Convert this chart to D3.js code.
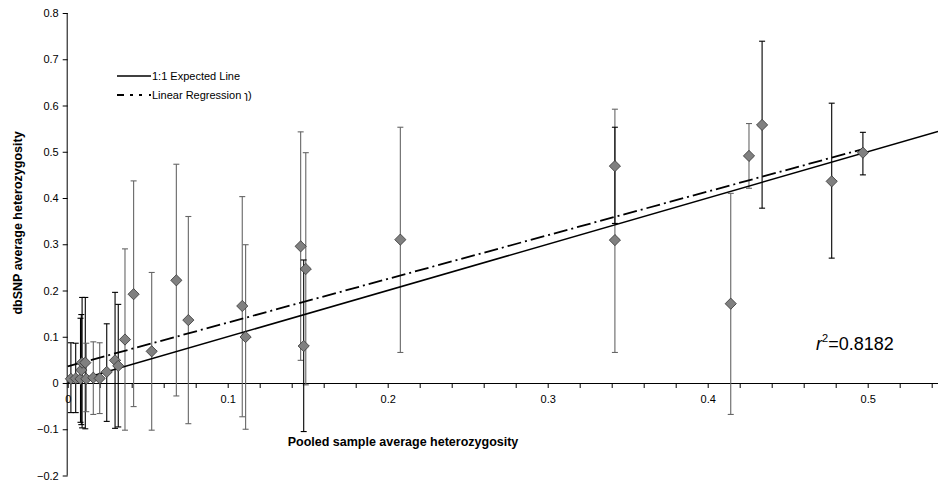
<!DOCTYPE html>
<html>
<head>
<meta charset="utf-8">
<script src="https://cdn.jsdelivr.net/npm/d3@7"></script>
<style>
  html, body { margin: 0; padding: 0; background: #fff; }
  svg { display: block; font-family: "Liberation Sans", Arial, sans-serif; }
</style>
</head>
<body>
<svg id="chart" width="938" height="487"></svg>
<script>
// ---- Data ----
const pooledX = [0.002, 0.005, 0.008, 0.0085, 0.009, 0.011, 0.0116, 0.016, 0.020, 0.0244,
                 0.0296, 0.0316, 0.0358, 0.0412, 0.0525, 0.0679, 0.0754, 0.1091, 0.1112, 0.1456,
                 0.1488, 0.1475, 0.2079, 0.342, 0.342, 0.4144, 0.4258, 0.434, 0.4775, 0.497];
const dbsnpY  = [0.009, 0.010, 0.009, 0.028, 0.044, 0.044, 0.009, 0.0115, 0.010, 0.024,
                 0.049, 0.037, 0.094, 0.192, 0.0685, 0.222, 0.136, 0.1665, 0.0995, 0.2955,
                 0.2465, 0.080, 0.310, 0.309, 0.469, 0.1715, 0.491, 0.558, 0.436, 0.498];
const errLow  = [-0.064, -0.064, -0.085, -0.090, -0.097, -0.099, -0.062, -0.068, -0.066, -0.083,
                 -0.098, -0.095, -0.102, -0.051, -0.102, -0.028, -0.088, -0.073, -0.100, 0.049,
                 -0.004, -0.105, 0.066, 0.066, 0.345, -0.068, 0.421, 0.378, 0.270, 0.450];
const errHigh = [0.087, 0.086, 0.140, 0.148, 0.185, 0.185, 0.086, 0.089, 0.087, 0.128,
                 0.196, 0.170, 0.290, 0.437, 0.239, 0.473, 0.360, 0.403, 0.299, 0.543,
                 0.498, 0.266, 0.553, 0.592, 0.553, 0.410, 0.561, 0.739, 0.605, 0.542];
const errTone = ["k","k","k","k","k","k","g","g","g","k",
                 "k","k","g","g","g","g","g","g","g","g",
                 "g","k","g","g","k","g","g","k","k","k"];
const yTicks = [-0.2, -0.1, 0, 0.1, 0.2, 0.3, 0.4, 0.5, 0.6, 0.7, 0.8];
const xTickLabels = [0, 0.1, 0.2, 0.3, 0.4, 0.5];
const regression = { intercept: 0.036, slope: 0.945, xStart: 0, xEnd: 0.497 };
const rSquared = "0.8182";

// ---- Layout ----
const svg = d3.select("#chart");
const x0 = 67.7, xPerUnit = 1600;
const xMax = (938 - x0) / xPerUnit;
const x = d3.scaleLinear().domain([0, xMax]).range([x0, 938]);
const y = d3.scaleLinear().domain([-0.2, 0.8]).range([475.5, 13]);

const fmt = d => d === 0 ? "0" : d3.format(".1f")(d);

// Y axis
const yAxis = d3.axisLeft(y).tickValues(yTicks).tickFormat(fmt).tickSize(5).tickPadding(4);
const gy = svg.append("g").attr("transform", `translate(${x0},0)`).call(yAxis);
gy.select(".domain").attr("stroke", "#000").attr("d", `M-0.5,${y(-0.2)}V${y(0.8)}`);
gy.selectAll(".tick line").attr("stroke", "#000");
gy.selectAll(".tick text").attr("font-size", 11).attr("fill", "#000");

// X axis (at y = 0), minor ticks every 0.02
const minorTicks = d3.range(0, xMax + 1e-9, 0.02);
const xAxis = d3.axisBottom(x).tickValues(minorTicks).tickSize(5)
  .tickFormat(d => xTickLabels.some(v => Math.abs(v - d) < 1e-9) ? fmt(Math.round(d * 10) / 10) : "");
const gx = svg.append("g").attr("transform", `translate(0,${y(0)})`).call(xAxis);
gx.select(".domain").attr("stroke", "#000").attr("d", `M${x0},0.5H938`);
gx.selectAll(".tick line").attr("stroke", "#000");
gx.selectAll(".tick text").attr("font-size", 11).attr("fill", "#000").attr("dy", "1.05em");

// Error bars
const idx = d3.range(pooledX.length);
const eb = svg.append("g");
idx.forEach(i => {
  const col = errTone[i] === "k" ? "#000" : "#666";
  const cx = x(pooledX[i]);
  const g = eb.append("g").attr("stroke", col).attr("stroke-width", 1.1);
  g.append("line").attr("x1", cx).attr("x2", cx).attr("y1", y(errLow[i])).attr("y2", y(errHigh[i]));
  g.append("line").attr("x1", cx - 3).attr("x2", cx + 3).attr("y1", y(errLow[i])).attr("y2", y(errLow[i]));
  g.append("line").attr("x1", cx - 3).attr("x2", cx + 3).attr("y1", y(errHigh[i])).attr("y2", y(errHigh[i]));
});

// 1:1 expected line
svg.append("line")
  .attr("x1", x(0)).attr("y1", y(0)).attr("x2", x(xMax)).attr("y2", y(xMax))
  .attr("stroke", "#000").attr("stroke-width", 1.5);

// Linear regression line
svg.append("line")
  .attr("x1", x(regression.xStart)).attr("y1", y(regression.intercept + regression.slope * regression.xStart))
  .attr("x2", x(regression.xEnd)).attr("y2", y(regression.intercept + regression.slope * regression.xEnd))
  .attr("stroke", "#000").attr("stroke-width", 1.8).attr("stroke-dasharray", "14,4,2,4");

// Diamonds
const diamond = d3.symbol().type(d3.symbolDiamond2).size(80);
svg.append("g").selectAll("path").data(idx).join("path")
  .attr("d", diamond)
  .attr("transform", i => `translate(${x(pooledX[i])},${y(dbsnpY[i])})`)
  .attr("fill", "#808080").attr("stroke", "#333").attr("stroke-width", 0.8);

// Legend
const leg = svg.append("g").attr("font-size", 11).attr("fill", "#000");
leg.append("line").attr("x1", 117).attr("x2", 151).attr("y1", 76).attr("y2", 76)
  .attr("stroke", "#000").attr("stroke-width", 1.5);
leg.append("text").attr("x", 152).attr("y", 80).text("1:1 Expected Line");
leg.append("line").attr("x1", 117).attr("x2", 151).attr("y1", 95).attr("y2", 95)
  .attr("stroke", "#000").attr("stroke-width", 1.8).attr("stroke-dasharray", "7,6,3,6,3");
leg.append("text").attr("x", 152).attr("y", 99).text("Linear Regression \u027F)");

// r^2 annotation
const rt = svg.append("text").attr("x", 816).attr("y", 350).attr("font-size", 18).attr("fill", "#000");
rt.append("tspan").attr("font-style", "italic").text("r");
rt.append("tspan").attr("font-size", 11).attr("dy", -8).text("2");
rt.append("tspan").attr("dy", 8).text("=" + rSquared);

// Axis titles
svg.append("text").attr("x", 403).attr("y", 446).attr("text-anchor", "middle")
  .attr("font-size", 12.5).attr("font-weight", "bold").text("Pooled sample average heterozygosity");
svg.append("text").attr("transform", "translate(22,223) rotate(-90)").attr("text-anchor", "middle")
  .attr("font-size", 12.5).attr("font-weight", "bold").text("dbSNP average heterozygosity");
</script>
</body>
</html>
